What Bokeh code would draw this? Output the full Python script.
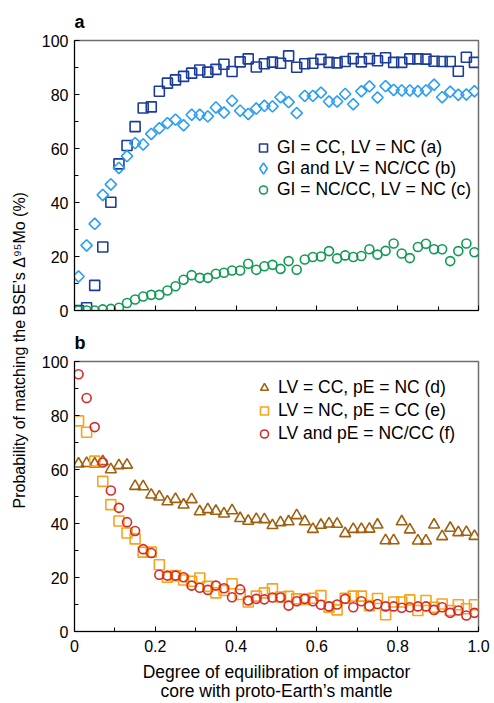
import numpy as np
from bokeh.plotting import figure
from bokeh.layouts import row, column
from bokeh.models import Range1d, Label, Legend, LegendItem, FixedTicker
from bokeh.embed import file_html
from bokeh.resources import INLINE

# ---------------- data ----------------
eq = [0.01, 0.03, 0.05, 0.07, 0.09, 0.11, 0.13, 0.15, 0.17, 0.19,
      0.21, 0.23, 0.25, 0.27, 0.29, 0.31, 0.33, 0.35, 0.37, 0.39,
      0.41, 0.43, 0.45, 0.47, 0.49, 0.51, 0.53, 0.55, 0.57, 0.59,
      0.61, 0.63, 0.65, 0.67, 0.69, 0.71, 0.73, 0.75, 0.77, 0.79,
      0.81, 0.83, 0.85, 0.87, 0.89, 0.91, 0.93, 0.95, 0.97, 0.99]

# panel a
series_a = [0.0, 1.0, 9.3, 23.5, 40.1, 54.3, 61.1, 68.1, 75.0, 75.4,
            81.2, 84.2, 85.4, 86.7, 87.9, 89.1, 88.3, 89.3, 91.2, 88.5,
            92.1, 93.2, 90.2, 91.4, 92.0, 91.6, 94.3, 90.1, 91.4, 91.6,
            93.0, 91.9, 91.7, 92.2, 93.3, 92.1, 93.3, 92.5, 93.6, 91.9,
            91.9, 93.2, 93.2, 93.1, 92.3, 92.2, 92.2, 88.6, 93.8, 91.9]
series_b = [12.6, 24.1, 32.1, 42.8, 46.7, 52.8, 57.2, 62.0, 61.5, 65.4,
            67.5, 69.4, 70.7, 68.6, 72.5, 72.5, 71.9, 75.2, 73.3, 77.7,
            74.0, 72.8, 74.8, 75.8, 75.6, 79.0, 77.2, 73.1, 79.5, 79.5,
            80.7, 77.4, 77.4, 80.2, 76.4, 81.2, 83.0, 78.9, 83.1, 81.7,
            81.5, 81.5, 81.2, 81.5, 83.6, 79.0, 81.0, 79.9, 80.0, 81.2]
series_c = [0.0, 0.0, 0.0, 0.4, 0.6, 1.0, 2.8, 4.1, 5.2, 5.8,
            5.8, 7.4, 9.0, 11.4, 13.1, 12.1, 12.1, 13.6, 14.0, 14.8,
            14.8, 17.3, 15.1, 16.4, 16.9, 15.4, 18.3, 15.1, 18.9, 19.8,
            20.0, 22.0, 19.3, 20.4, 19.8, 20.2, 22.7, 20.7, 22.1, 24.8,
            21.1, 19.4, 23.5, 24.7, 22.7, 22.7, 18.3, 22.0, 24.8, 21.6]

# panel b
series_d = [62.1, 62.3, 62.1, 63.0, 60.0, 61.5, 61.7, 53.8, 53.7, 50.6,
            49.9, 48.1, 49.0, 46.9, 48.9, 44.4, 45.2, 44.6, 43.6, 44.8,
            41.9, 40.9, 41.6, 41.5, 39.3, 40.4, 40.7, 43.0, 40.7, 37.9,
            39.4, 39.9, 39.8, 36.3, 37.9, 37.9, 38.0, 39.5, 33.7, 33.7,
            40.7, 37.7, 33.6, 33.6, 39.5, 35.2, 38.3, 36.7, 36.8, 35.3]
series_e = [78.0, 73.8, 63.1, 55.6, 47.0, 40.9, 36.5, 34.3, 29.4, 29.4,
            24.7, 20.1, 20.7, 19.1, 18.6, 19.8, 16.7, 14.3, 15.2, 17.7,
            13.7, 10.9, 13.1, 14.3, 15.8, 12.8, 13.0, 12.1, 11.9, 12.3,
            13.3, 9.0, 8.0, 12.3, 13.1, 13.1, 9.6, 12.2, 6.2, 10.9,
            10.9, 11.7, 7.8, 11.5, 9.0, 10.2, 7.8, 9.9, 8.4, 9.9]
series_f = [95.3, 86.5, 75.7, 62.6, 52.2, 45.8, 40.5, 37.2, 30.5, 29.1,
            21.0, 20.7, 20.7, 20.1, 17.0, 16.2, 15.4, 17.0, 16.0, 12.7,
            15.6, 11.5, 12.1, 11.9, 12.6, 12.6, 9.6, 11.2, 12.1, 11.2,
            9.9, 9.3, 10.0, 12.1, 9.0, 11.2, 9.4, 10.2, 9.3, 9.3,
            8.8, 9.0, 9.3, 9.3, 8.0, 9.0, 6.9, 7.8, 5.9, 6.9]

labels_a = ["GI = CC, LV = NC (a)", "GI and LV = NC/CC (b)", "GI = NC/CC, LV = NC (c)"]
labels_b = ["LV = CC, pE = NC (d)", "LV = NC, pE = CC (e)", "LV and pE = NC/CC (f)"]

x_ticks = [0, 0.2, 0.4, 0.6, 0.8, 1.0]
x_tick_text = {0: "0", 1: "1.0"}
x_minor = [0.1, 0.3, 0.5, 0.7, 0.9]
y_ticks = [0, 20, 40, 60, 80, 100]
y_minor = [10, 30, 50, 70, 90]

x_label = "Degree of equilibration of impactor\ncore with proto-Earth\u2019s mantle"
y_label = "Probability of matching the BSE\u2019s \u0394\u2079\u2075Mo (%)"

FONT = "Liberation Sans"
C_A, C_B, C_C = "#1c3c9c", "#2a9df4", "#119a52"
C_D, C_E, C_F = "#a0600f", "#f9a31c", "#d42a2a"


def make_panel(height, top, bottom, show_x, letter):
    p = figure(width=464, height=height, output_backend="svg", toolbar_location=None,
               x_range=Range1d(0, 1.0), y_range=Range1d(0, 100),
               min_border_left=44, min_border_right=16,
               min_border_top=top, min_border_bottom=bottom)
    p.title.text = letter
    p.title.text_font = FONT
    p.title.text_font_size = "18px"
    p.title.text_font_style = "bold"
    p.title.text_color = "black"
    p.title.align = "left"
    p.title.standoff = 17
    p.xgrid.visible = False
    p.ygrid.visible = False
    p.outline_line_color = "#6e6e6e"
    p.outline_line_width = 1.5
    p.xaxis.ticker = FixedTicker(ticks=x_ticks, minor_ticks=x_minor)
    p.yaxis.ticker = FixedTicker(ticks=y_ticks, minor_ticks=y_minor)
    for ax in (p.xaxis[0], p.yaxis[0]):
        ax.major_tick_in = 5
        ax.major_tick_out = 0
        ax.minor_tick_in = 4
        ax.minor_tick_out = 0
        ax.axis_line_color = "black"
        ax.major_tick_line_color = "black"
        ax.minor_tick_line_color = "black"
        ax.major_label_text_font = FONT
        ax.major_label_text_font_size = "16px"
        ax.major_label_text_color = "black"
    p.yaxis.major_label_standoff = 6
    p.xaxis.major_label_standoff = 8
    if show_x:
        p.xaxis.major_label_overrides = x_tick_text
        p.xaxis.axis_label = x_label
        p.xaxis.axis_label_text_font = FONT
        p.xaxis.axis_label_text_font_size = "17.5px"
        p.xaxis.axis_label_text_font_style = "normal"
        p.xaxis.axis_label_text_color = "black"
        p.xaxis.axis_label_text_line_height = 0.95
        p.xaxis.axis_label_standoff = 7
    else:
        p.xaxis.major_label_overrides = {t: "" for t in x_ticks}
        p.xaxis.major_label_standoff = 0
    return p


def make_legend(items, loc, box_w, box_h, standoff):
    return Legend(items=items, location=loc, orientation="vertical",
                  border_line_color=None, background_fill_alpha=0,
                  padding=0, margin=0, spacing=0,
                  glyph_width=box_w, glyph_height=box_h, label_height=box_h,
                  label_standoff=standoff, label_text_font=FONT,
                  label_text_font_size="17.5px", label_text_color="black")


# ---------------- panel a ----------------
pa = make_panel(322, 40, 12, False, "a")
ra = pa.scatter(eq, series_a, marker="square", size=10, fill_color=None,
                line_color=C_A, line_width=1.6)
rb = pa.scatter(eq, series_b, marker="square", angle=np.pi / 4, size=8,
                fill_color=None, line_color=C_B, line_width=1.6)
rc = pa.scatter(eq, series_c, marker="circle", size=9, fill_color=None,
                line_color=C_C, line_width=1.6)
# legend key for series b: a zero-size diamond renderer (legends ignore marker angle)
rb_key = pa.scatter(eq[:1], series_b[:1], marker="diamond", size=0, fill_color=None,
                    line_color=C_B, line_width=1.6)
pa.add_layout(make_legend([LegendItem(label=labels_a[0], renderers=[ra])],
                          (179, 152.5), 20, 21, 4))
pa.add_layout(make_legend([LegendItem(label=labels_a[1], renderers=[rb_key])],
                          (175, 128), 28, 28, 0))
pa.add_layout(make_legend([LegendItem(label=labels_a[2], renderers=[rc])],
                          (179, 110.5), 20, 21, 4))

# ---------------- panel b ----------------
pb = make_panel(381, 39, 72, True, "b")
rd = pb.scatter(eq, series_d, marker="triangle", size=11, fill_color=None,
                line_color=C_D, line_width=1.6)
re_ = pb.scatter(eq, series_e, marker="square", size=10, fill_color=None,
                 line_color=C_E, line_width=1.6)
rf = pb.scatter(eq, series_f, marker="circle", size=9, fill_color=None,
                line_color=C_F, line_width=1.6)
pb.add_layout(make_legend([LegendItem(label=labels_b[0], renderers=[rd]),
                           LegendItem(label=labels_b[1], renderers=[re_]),
                           LegendItem(label=labels_b[2], renderers=[rf])],
                          (180, 186), 20, 23, 4))

# ---------------- shared y label ----------------
pl = figure(width=30, height=703, output_backend="svg", toolbar_location=None,
            x_range=Range1d(0, 1), y_range=Range1d(0, 1),
            min_border=0, outline_line_color=None)
pl.xaxis.visible = False
pl.yaxis.visible = False
pl.xgrid.visible = False
pl.ygrid.visible = False
pl.add_layout(Label(x=18.5, y=195, x_units="screen", y_units="screen", text=y_label,
                    angle=np.pi / 2, text_font=FONT, text_font_size="16px",
                    text_align="left", text_baseline="middle", text_color="black"))

layout = row(pl, column(pa, pb, spacing=0), spacing=0)
open("out.html", "w").write(file_html(layout, INLINE))
